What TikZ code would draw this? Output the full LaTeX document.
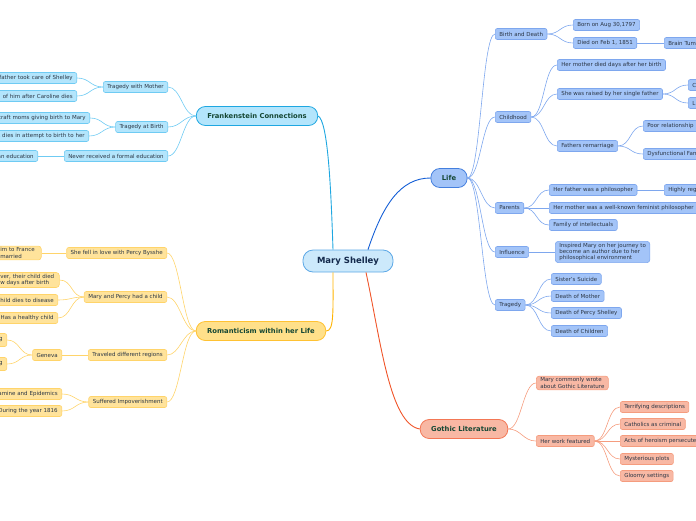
\documentclass[tikz,border=0pt]{standalone}
\usepackage{fontspec}
\setmainfont{DejaVu Sans}
\usepackage{xcolor}
\usetikzlibrary{calc}
\definecolor{navy}{HTML}{13294B}
\definecolor{mtext}{HTML}{154734}
\definecolor{subtext}{HTML}{2B3645}
\definecolor{rootfill}{HTML}{CCE9FB}
\definecolor{rootline}{HTML}{5CA8E6}
\definecolor{fcfill}{HTML}{B3E5FC}
\definecolor{fcdark}{HTML}{1EA7E1}
\definecolor{fcpale}{HTML}{6FCBF3}
\definecolor{rmfill}{HTML}{FFE08A}
\definecolor{rmdark}{HTML}{FFB300}
\definecolor{rmpale}{HTML}{FFD46A}
\definecolor{rmsubfill}{HTML}{FFE39B}
\definecolor{lffill}{HTML}{A3C4F8}
\definecolor{lfdark}{HTML}{155FD6}
\definecolor{lfpale}{HTML}{7EA7EE}
\definecolor{glfill}{HTML}{F8B8A4}
\definecolor{gldark}{HTML}{F0552A}
\definecolor{glpale}{HTML}{F59C7E}
\tikzset{
  rootbox/.style={draw=rootline, fill=rootfill, rounded corners=10pt, line width=.8pt,
    minimum height=22pt, minimum width=90pt, font=\bfseries\fontsize{8.5}{9}\selectfont, text=navy},
  mainbox/.style={draw, rounded corners=9pt, line width=.8pt, minimum height=19pt,
    inner xsep=11pt, font=\bfseries\fontsize{6.8}{7.4}\selectfont, text=mtext},
  subbox/.style={draw, rounded corners=2pt, line width=.6pt, minimum height=11pt,
    inner xsep=4pt, inner ysep=1.6pt, font=\fontsize{5.5}{6.4}\selectfont, text=subtext},
  fcmain/.style={mainbox, draw=fcdark, fill=fcfill},
  rmmain/.style={mainbox, draw=rmdark!80, fill=rmfill},
  lfmain/.style={mainbox, draw=lfdark!80, fill=lffill},
  glmain/.style={mainbox, draw=gldark!80, fill=glfill},
  fcsub/.style={subbox, draw=fcpale, fill=fcfill},
  rmsub/.style={subbox, draw=rmpale, fill=rmsubfill},
  lfsub/.style={subbox, draw=lfpale, fill=lffill},
  glsub/.style={subbox, draw=glpale, fill=glfill},
  leftcut/.style={anchor=east, text width=#1, align=right},
  rightcut/.style={anchor=west, text width=#1, align=left},
  fcline/.style={draw=fcpale, line width=.6pt},
  rmline/.style={draw=rmpale, line width=.6pt},
  lfline/.style={draw=lfpale, line width=.6pt},
  glline/.style={draw=glpale, line width=.6pt},
  rlink/.style={to path={.. controls +(13,0) and +(-13,0) .. (\tikztotarget)}},
  llink/.style={to path={.. controls +(-13,0) and +(13,0) .. (\tikztotarget)}}
}

\begin{document}
\begin{tikzpicture}[x=1pt,y=-1pt]
\useasboundingbox (0,0) rectangle (696,520);

% centre and main branches
\node[rootbox] (ms) at (348,261) {Mary Shelley};
\node[fcmain] (fc) at (257,116) {Frankenstein Connections};
\node[rmmain] (rm) at (261,331) {Romanticism within her Life};
\node[lfmain] (lf) at (449,178) {Life};
\node[glmain] (gl) at (464,429) {Gothic Literature};
\coordinate (msfc) at ($(ms.north)+(-15,0)$);
\coordinate (mslf) at ($(ms.north)+(20,0)$);
\coordinate (msrm) at ($(ms.south)+(-15,0)$);
\coordinate (msgl) at ($(ms.south)+(18,0)$);
\draw[fcdark, line width=.9pt] (fc.east) .. controls +(10,5) and +(-2,-60) .. (msfc);
\draw[rmdark, line width=.9pt] (msrm) .. controls +(0,40) and +(8,0) .. (rm.east);
\draw[lfdark, line width=.9pt] (mslf) .. controls +(15,-45) and +(-30,0) .. (lf.west);
\draw[gldark, line width=.9pt] (msgl) .. controls +(15,70) and +(-30,-5) .. (gl.west);

% Life
\node[lfsub, anchor=west] (bd) at (495,34) {Birth and Death};
\node[lfsub, anchor=west] (ch) at (495,117) {Childhood};
\node[lfsub, anchor=west] (pa) at (495,208) {Parents};
\node[lfsub, anchor=west] (inf) at (495,252) {Influence};
\node[lfsub, anchor=west] (tr) at (495,305) {Tragedy};
\foreach \c in {bd,ch,pa,inf,tr} \draw[lfline] (lf.east) to[rlink] (\c.west);

\node[lfsub, anchor=west] (born) at (573,25) {Born on Aug 30,1797};
\node[lfsub, anchor=west] (died) at (573,43) {Died on Feb 1, 1851};
\node[lfsub, rightcut=40pt] (brain) at (664,43) {Brain Tumor};
\foreach \c in {born,died} \draw[lfline] (bd.east) to[rlink] (\c.west);
\draw[lfline] (died) -- (brain);

\node[lfsub, anchor=west] (momdied) at (557,65) {Her mother died days after her birth};
\node[lfsub, anchor=west] (raised) at (557,94) {She was raised by her single father};
\node[lfsub, anchor=west] (remar) at (557,146) {Fathers remarriage};
\foreach \c in {momdied,raised,remar} \draw[lfline] (ch.east) to[rlink] (\c.west);
\node[lfsub, rightcut=20pt] (rc) at (688,85) {C};
\node[lfsub, rightcut=20pt] (rl) at (688,103) {L};
\foreach \c in {rc,rl} \draw[lfline] (raised.east) to[rlink] (\c.west);
\node[lfsub, rightcut=60pt] (poor) at (643,126) {Poor relationship};
\node[lfsub, rightcut=60pt] (dys) at (643,154) {Dysfunctional Family};
\foreach \c in {poor,dys} \draw[lfline] (remar.east) to[rlink] (\c.west);

\node[lfsub, anchor=west] (phil) at (549,190) {Her father was a philosopher};
\node[lfsub, rightcut=150pt] (fem) at (549,208) {Her mother was a well-known feminist philosopher};
\node[lfsub, anchor=west] (fam) at (549,225) {Family of intellectuals};
\foreach \c in {phil,fem,fam} \draw[lfline] (pa.east) to[rlink] (\c.west);
\node[lfsub, rightcut=50pt] (high) at (664,190) {Highly regarded};
\draw[lfline] (phil) -- (high);

\node[lfsub, anchor=west, align=left, rounded corners=3pt] (insp) at (555,252)
  {Inspired Mary on her journey to\\become an author due to her\\philosophical environment};
\draw[lfline] (inf) -- (insp);

\node[lfsub, anchor=west] (sis) at (551,279) {Sister's Suicide};
\node[lfsub, anchor=west] (dom) at (551,296) {Death of Mother};
\node[lfsub, anchor=west] (dps) at (551,313) {Death of Percy Shelley};
\node[lfsub, anchor=west] (doc) at (551,331) {Death of Children};
\foreach \c in {sis,dom,dps,doc} \draw[lfline] (tr.east) to[rlink] (\c.west);

% Gothic Literature
\node[glsub, anchor=west, align=left, rounded corners=3pt] (wrote) at (536,383)
  {Mary commonly wrote\\about Gothic Literature};
\node[glsub, anchor=west] (feat) at (536,441) {Her work featured};
\foreach \c in {wrote,feat} \draw[glline] (gl.east) to[rlink] (\c.west);
\node[glsub, anchor=west] (terr) at (620,407) {Terrifying descriptions};
\node[glsub, anchor=west] (cath) at (620,424) {Catholics as criminal};
\node[glsub, rightcut=90pt] (acts) at (620,441) {Acts of heroism persecuted};
\node[glsub, anchor=west] (myst) at (620,459) {Mysterious plots};
\node[glsub, anchor=west] (gloom) at (620,476) {Gloomy settings};
\foreach \c in {terr,cath,acts,myst,gloom} \draw[glline] (feat.east) to[rlink] (\c.west);

% Frankenstein Connections
\node[fcsub, anchor=east] (twm) at (168,87) {Tragedy with Mother};
\node[fcsub, anchor=east] (tab) at (168,127) {Tragedy at Birth};
\node[fcsub, anchor=east] (nev) at (168,156) {Never received a formal education};
\foreach \c in {twm,tab,nev} \draw[fcline] (fc.west) to[llink] (\c.east);
\node[fcsub, leftcut=90pt] (took) at (77,78) {father took care of Shelley};
\node[fcsub, leftcut=90pt] (carol) at (77,96) {of him after Caroline dies};
\foreach \c in {took,carol} \draw[fcline] (twm.west) to[llink] (\c.east);
\node[fcsub, leftcut=100pt] (moms) at (90,118) {craft moms giving birth to Mary};
\node[fcsub, leftcut=100pt] (attempt) at (89,136) {s dies in attempt to birth to her};
\foreach \c in {moms,attempt} \draw[fcline] (tab.west) to[llink] (\c.east);
\node[fcsub, leftcut=50pt] (educ) at (38,156) {an education};
\draw[fcline] (nev) -- (educ);

% Romanticism within her Life
\node[rmsub, anchor=east] (love) at (167,253) {She fell in love with Percy Bysshe};
\node[rmsub, anchor=east] (kid) at (167,297) {Mary and Percy had a child};
\node[rmsub, anchor=east] (trav) at (167,355) {Traveled different regions};
\node[rmsub, anchor=east] (impov) at (167,402) {Suffered Impoverishment};
\foreach \c in {love,kid,trav,impov} \draw[rmline] (rm.west) to[llink] (\c.east);
\node[rmsub, anchor=west, text width=37pt, align=left, rounded corners=3pt] (france) at (-4,253)
  {im to France\\married};
\draw[rmline] (love) -- (france);
\node[rmsub, anchor=west, text width=55pt, align=left, rounded corners=3pt] (died1) at (-4,280)
  {ver, their child died\\w days after birth};
\node[rmsub, leftcut=70pt] (disease) at (58,300) {child dies to disease};
\node[rmsub, leftcut=70pt] (healthy) at (58,318) {Has a healthy child};
\foreach \c in {died1,disease,healthy} \draw[rmline] (kid.west) to[llink] (\c.east);
\node[rmsub, anchor=east] (gen) at (62,355) {Geneva};
\draw[rmline] (trav) -- (gen);
\node[rmsub, leftcut=30pt, minimum height=13pt] (g1) at (7,340) {g};
\node[rmsub, leftcut=30pt, minimum height=13pt] (g2) at (7,364) {g};
\foreach \c in {g1,g2} \draw[rmline] (gen.west) to[llink] (\c.east);
\node[rmsub, leftcut=80pt] (famine) at (62,394) {amine and Epidemics};
\node[rmsub, leftcut=80pt] (year) at (62,411) {During the year 1816};
\foreach \c in {famine,year} \draw[rmline] (impov.west) to[llink] (\c.east);
\end{tikzpicture}
\end{document}
